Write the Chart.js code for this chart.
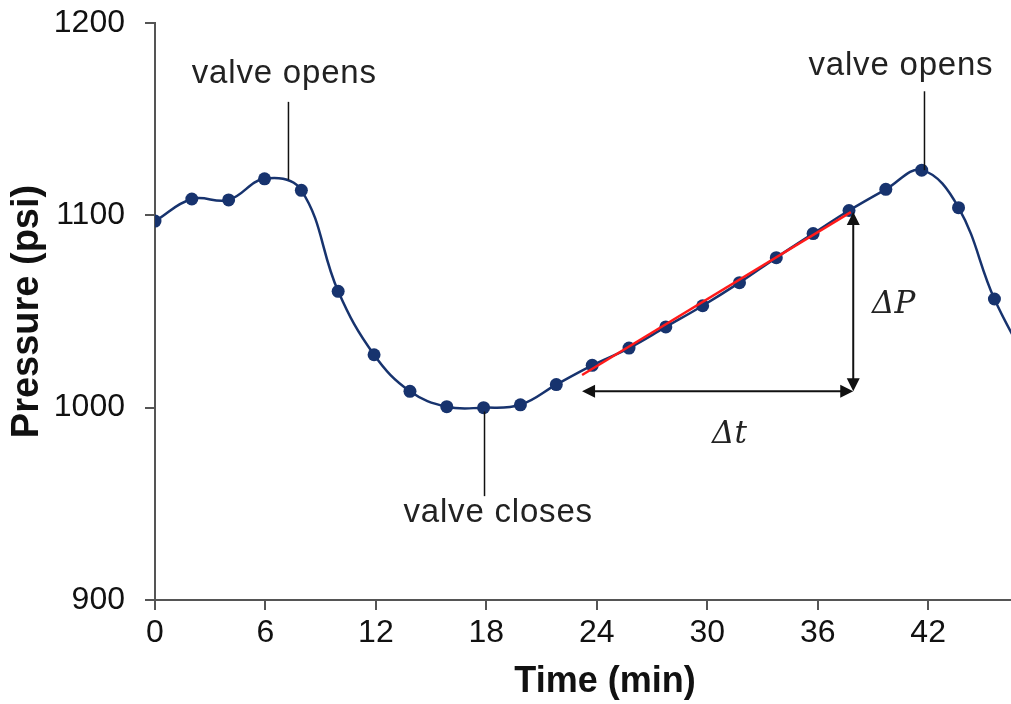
<!DOCTYPE html>
<html>
<head>
<meta charset="utf-8">
<script src="https://cdn.jsdelivr.net/npm/chart.js@4.4.1/dist/chart.umd.min.js"></script>
<style>
  body { margin: 0; background: #fff; }
</style>
</head>
<body>
<canvas id="grafico" width="1011" height="704"></canvas>
<script>
// dati
const tempi = [0, 2, 4, 5.95, 7.95, 9.95, 11.9, 13.85, 15.85, 17.85, 19.85, 21.8, 23.75, 25.75, 27.75, 29.75, 31.75, 33.75, 35.75, 37.7, 39.7, 41.65, 43.65, 45.6, 47.6];
const pressioni = [1097, 1108.5, 1108, 1119, 1113, 1060.5, 1027.5, 1008.5, 1000.5, 1000, 1001.5, 1012, 1022, 1031, 1042, 1053, 1065, 1078, 1090.5, 1102.5, 1113.5, 1123.5, 1104, 1056.5, 1020];
const trendX = [23.2, 37.8];
const trendY = [1017, 1101.7];
const xTicks = [0, 6, 12, 18, 24, 30, 36, 42];
const yTicks = [900, 1000, 1100, 1200];

const grigio = '#555';
const sans = '"Liberation Sans", Arial, sans-serif';

// annotazioni: frecce, linee guida e testi
const annotazioni = {
    id: 'annotazioni',
    afterDatasetsDraw(chart) {
        const ctx = chart.ctx;
        const x = chart.scales.x, y = chart.scales.y;
        const px = v => x.getPixelForValue(v);
        const py = v => y.getPixelForValue(v);

        ctx.save();
        ctx.strokeStyle = '#111';
        ctx.fillStyle = '#111';
        ctx.lineWidth = 1.5;

        // linee verticali delle etichette
        const guida = (xv, y1, y2) => {
            ctx.beginPath();
            ctx.moveTo(px(xv), py(y1));
            ctx.lineTo(px(xv), py(y2));
            ctx.stroke();
        };
        guida(7.25, 1159, 1118.5);
        guida(17.9, 998, 954);
        guida(41.8, 1164.5, 1123.5);

        // frecce
        const punta = (x0, y0, ang) => {
            const L = 13, W = 6.5;
            ctx.beginPath();
            ctx.moveTo(x0, y0);
            ctx.lineTo(x0 - L * Math.cos(ang) + W * Math.sin(ang), y0 - L * Math.sin(ang) - W * Math.cos(ang));
            ctx.lineTo(x0 - L * Math.cos(ang) - W * Math.sin(ang), y0 - L * Math.sin(ang) + W * Math.cos(ang));
            ctx.closePath();
            ctx.fill();
        };
        const xa = px(23.2), xb = px(37.93);
        const ya = py(1008.6), yb = py(1101.7);
        ctx.lineWidth = 2;
        ctx.beginPath();
        ctx.moveTo(xa + 6, ya); ctx.lineTo(xb - 6, ya);
        ctx.moveTo(xb, ya - 6); ctx.lineTo(xb, yb + 6);
        ctx.stroke();
        punta(xa, ya, Math.PI);
        punta(xb, ya, 0);
        punta(xb, yb, -Math.PI / 2);
        punta(xb, ya, Math.PI / 2);

        // testi
        ctx.font = '33px ' + sans;
        ctx.letterSpacing = '0.8px';
        ctx.textAlign = 'left';
        ctx.textBaseline = 'alphabetic';
        ctx.fillStyle = '#222';
        ctx.fillText('valve opens', px(2.0), py(1168.7));
        ctx.fillText('valve opens', px(35.5), py(1172.8));
        ctx.fillText('valve closes', px(13.5), py(940.8));

        ctx.letterSpacing = '0px';
        ctx.font = 'italic 31px "DejaVu Serif", "Liberation Serif", serif';
        ctx.fillText('\u0394P', px(38.95), py(1049));
        ctx.fillText('\u0394t', px(30.26), py(981.5));

        // titolo asse x (spostato a destra come nell'originale)
        ctx.font = 'bold 36px ' + sans;
        ctx.textAlign = 'center';
        ctx.textBaseline = 'middle';
        ctx.fillStyle = '#111';
        ctx.fillText('Time (min)', chart.chartArea.left + 450, 682);
        ctx.restore();
    }
};

new Chart(document.getElementById('grafico'), {
    type: 'line',
    data: {
        datasets: [{
            data: trendX.map((t, i) => ({ x: t, y: trendY[i] })),
            borderColor: '#ff1a1a',
            borderWidth: 2.5,
            pointRadius: 0,
            tension: 0,
            order: 0
        }, {
            data: tempi.map((t, i) => ({ x: t, y: pressioni[i] })),
            borderColor: '#17336e',
            backgroundColor: '#17336e',
            borderWidth: 2.5,
            pointRadius: 6.5,
            pointBorderWidth: 0,
            tension: 0.4,
            order: 1
        }]
    },
    options: {
        responsive: false,
        animation: false,
        layout: { autoPadding: false, padding: { top: 23, right: 0, left: 0, bottom: 0 } },
        plugins: {
            legend: { display: false },
            tooltip: { enabled: false }
        },
        scales: {
            x: {
                type: 'linear',
                min: 0,
                max: 46.5,
                afterBuildTicks: s => { s.ticks = xTicks.map(v => ({ value: v })); },
                afterFit: s => { s.height = 104; s.paddingLeft = 0; s.paddingRight = 0; },
                grid: { drawOnChartArea: false, color: grigio, lineWidth: 2, tickLength: 10 },
                border: { color: grigio, width: 2 },
                ticks: { color: '#111', padding: 4, maxRotation: 0, callback: v => String(v), font: { size: 32, family: sans } },
                title: { display: false, text: 'Time (min)' }
            },
            y: {
                min: 900,
                max: 1200,
                afterBuildTicks: s => { s.ticks = yTicks.map(v => ({ value: v })); },
                afterFit: s => { s.width = 155; s.paddingTop = 0; s.paddingBottom = 0; },
                grid: { drawOnChartArea: false, color: grigio, lineWidth: 2, tickLength: 10 },
                border: { color: grigio, width: 2 },
                ticks: { color: '#111', padding: 20, callback: v => String(v), font: { size: 32, family: sans } },
                title: { display: true, text: 'Pressure (psi)', color: '#111', padding: { top: 5, bottom: 0 }, font: { size: 38, weight: 'bold', family: sans } }
            }
        }
    },
    plugins: [annotazioni]
});
</script>
</body>
</html>
